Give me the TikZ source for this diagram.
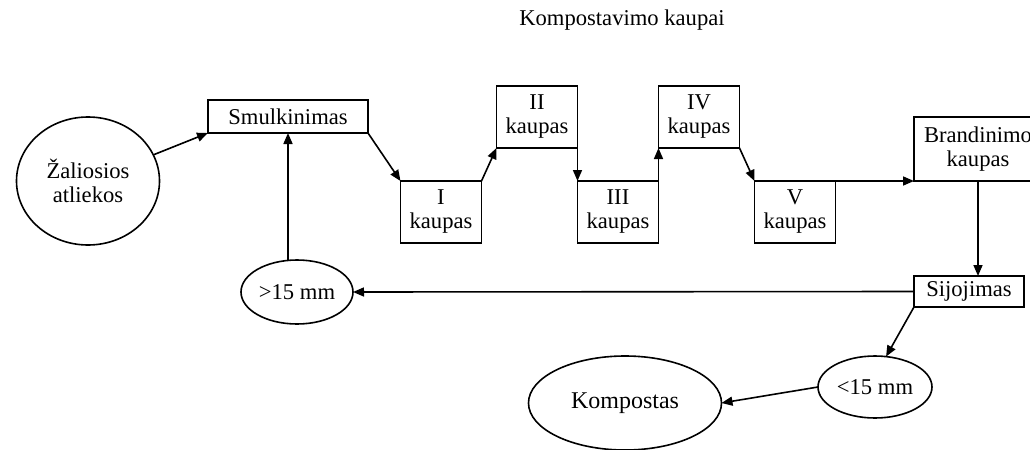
\documentclass[tikz,border=0pt]{standalone}
\usepackage{fontspec}
\setmainfont{Liberation Serif}
\usepackage{tikz}
\usetikzlibrary{arrows.meta, shapes.geometric}

\tikzset{
  stage/.style={draw, line width=0.8pt, align=center, inner sep=0pt, outer sep=0pt},
  pile/.style={stage, minimum width=40.5pt, minimum height=31pt},
  blob/.style={draw, ellipse, line width=0.8pt, align=center, inner sep=0pt, outer sep=0pt},
  flow/.style={line width=0.8pt, -{Triangle[length=5.5pt, width=4.5pt]}},
}

\begin{document}
\begin{tikzpicture}[x=0.5pt, y=-0.5pt, font=\fontsize{11.3}{12}\selectfont]
          \useasboundingbox (0,0) rectangle (1030,450);
          \node (title) at (622,20) {Kompostavimo kaupai};
          \node[blob, minimum width=71.5pt, minimum height=64pt] (zal) at (88,181) {Žaliosios\\atliekos};
          \node[stage, minimum width=80pt, minimum height=16.5pt] (smul) at (288,116.5) {Smulkinimas};
          \foreach \n/\r/\x/\y in {k1/I/441/212, k2/II/537/117, k3/III/618/212, k4/IV/699/117, k5/V/795/212}
            \node[pile] (\n) at (\x,\y) {\r\\kaupas};
          \node[stage, minimum width=64pt, minimum height=32pt] (brand) at (978,149) {Brandinimo\\kaupas};
          \node[stage, minimum width=55pt, minimum height=15.5pt] (sij) at (969,291.5) {Sijojimas};
          \node[blob, minimum width=56pt, minimum height=32pt] (big) at (297,292) {>15 mm};
          \node[blob, minimum width=57pt, minimum height=31pt] (small) at (875,387) {<15 mm};
          \node[blob, minimum width=96.5pt, minimum height=47pt, font=\fontsize{12}{13}\selectfont] (komp) at (625,403) {Kompostas};
          \draw[flow] (zal) -- (smul.south west);
          \draw[flow] (smul.south east) -- (k1.north west);
          \draw[flow] (k1.north east) -- (k2.south west);
          \draw[flow] (k2.south east) -- (k3.north west);
          \draw[flow] (k3.north east) -- (k4.south west);
          \draw[flow] (k4.south east) -- (k5.north west);
          \draw[flow] (k5.north east) -- (brand.south west);
          \draw[flow] (brand.south) -- (brand.south |- sij.north);
          \draw[flow] (sij.west) -- (big.east);
          \draw[flow] (smul.south |- big.north) -- (smul.south);
          \draw[flow] (sij.south west) -- (small.70);
          \draw[flow] (small.west) -- (komp.east);
        \end{tikzpicture}
\end{document}
